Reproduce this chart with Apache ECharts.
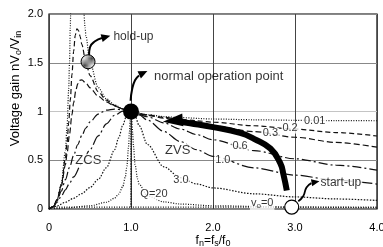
<!DOCTYPE html>
<html>
<head>
<meta charset="utf-8">
<script src="https://cdn.jsdelivr.net/npm/echarts@6/dist/echarts.min.js"></script>
<style>
  html, body { margin: 0; padding: 0; background: #fff; }
  #chart { width: 383px; height: 247px; }
</style>
</head>
<body>
<div id="chart"></div>
<script>
  // tick labels
  const fnTicks = ['0', '1.0', '2.0', '3.0', '4.0']
  const gainTicks = ['0', '0.5', '1', '1.5', '2.0']

  // gain curves [fn, gain] (values above 2.0 run off the top)
  const gainQ001 = [[0, 0], [0.05, 0.023], [0.1, 0.1], [0.15, 0.261], [0.2, 0.6], [0.22, 0.844], [0.24, 1.222], [0.25, 1.497], [0.26, 1.877], [0.27, 2.42], [0.28, 3.25], [0.3, 7.86], [0.33, 10.97], [0.35, 4.86], [0.36, 3.94], [0.38, 2.92], [0.4, 2.397], [0.42, 2.078], [0.44, 1.861], [0.45, 1.777], [0.5, 1.5], [0.6, 1.246], [0.7, 1.131], [0.8, 1.067], [0.9, 1.027], [1, 1], [1.2, 0.967], [1.4, 0.948], [1.6, 0.937], [2, 0.923], [2.5, 0.915], [3, 0.91], [3.5, 0.907], [4, 0.905]]
  const gainQ02 = [[0, 0], [0.05, 0.023], [0.1, 0.098], [0.15, 0.247], [0.2, 0.52], [0.22, 0.682], [0.24, 0.882], [0.26, 1.119], [0.28, 1.378], [0.3, 1.615], [0.32, 1.781], [0.34, 1.847], [0.36, 1.831], [0.38, 1.769], [0.4, 1.69], [0.45, 1.504], [0.5, 1.368], [0.6, 1.204], [0.7, 1.116], [0.8, 1.062], [0.9, 1.026], [1, 1], [1.2, 0.965], [1.4, 0.94], [1.6, 0.921], [1.8, 0.905], [2, 0.89], [2.5, 0.854], [3, 0.819], [3.5, 0.784], [4, 0.749]]
  const gainQ03 = [[0, 0], [0.05, 0.023], [0.1, 0.096], [0.15, 0.233], [0.2, 0.454], [0.22, 0.569], [0.25, 0.765], [0.28, 0.967], [0.3, 1.089], [0.33, 1.227], [0.35, 1.283], [0.38, 1.321], [0.4, 1.324], [0.45, 1.292], [0.5, 1.243], [0.6, 1.157], [0.7, 1.098], [0.8, 1.056], [0.9, 1.025], [1, 1], [1.2, 0.962], [1.4, 0.931], [1.6, 0.903], [1.8, 0.877], [2, 0.853], [2.5, 0.793], [3, 0.736], [3.5, 0.683], [4, 0.634]]
  const gainQ06 = [[0, 0], [0.05, 0.022], [0.1, 0.086], [0.15, 0.183], [0.2, 0.301], [0.25, 0.426], [0.3, 0.548], [0.35, 0.659], [0.4, 0.754], [0.45, 0.831], [0.5, 0.893], [0.6, 0.974], [0.7, 1.014], [0.8, 1.025], [0.9, 1.018], [1, 1], [1.2, 0.946], [1.4, 0.883], [1.6, 0.821], [1.8, 0.763], [2, 0.71], [2.5, 0.599], [3, 0.515], [3.5, 0.45], [4, 0.399]]
  const gainQ10 = [[0, 0], [0.05, 0.021], [0.1, 0.071], [0.15, 0.132], [0.2, 0.197], [0.25, 0.263], [0.3, 0.329], [0.4, 0.467], [0.5, 0.609], [0.6, 0.749], [0.7, 0.873], [0.8, 0.962], [0.9, 1.004], [1, 1], [1.1, 0.964], [1.2, 0.912], [1.4, 0.795], [1.6, 0.692], [1.8, 0.608], [2, 0.54], [2.5, 0.422], [3, 0.347], [3.5, 0.294], [4, 0.256]]
  const gainQ30 = [[0, 0], [0.1, 0.032], [0.2, 0.069], [0.3, 0.11], [0.4, 0.158], [0.5, 0.22], [0.6, 0.303], [0.7, 0.424], [0.8, 0.608], [0.85, 0.73], [0.9, 0.861], [0.95, 0.966], [1, 1], [1.05, 0.951], [1.1, 0.855], [1.2, 0.662], [1.4, 0.433], [1.6, 0.321], [1.8, 0.257], [2, 0.216], [2.5, 0.156], [3, 0.124], [3.5, 0.103], [4, 0.088]]
  const gainQ20 = [[0, 0], [0.2, 0.01], [0.5, 0.033], [0.7, 0.069], [0.8, 0.111], [0.85, 0.152], [0.9, 0.231], [0.93, 0.326], [0.95, 0.439], [0.97, 0.636], [0.98, 0.78], [0.99, 0.93], [1, 1], [1.01, 0.927], [1.02, 0.782], [1.03, 0.644], [1.05, 0.455], [1.08, 0.308], [1.1, 0.253], [1.2, 0.135], [1.4, 0.073], [1.6, 0.051], [2, 0.033], [3, 0.019], [4, 0.013]]
  const gainNoLoad = [[0, 0.02], [1, 0.02], [1, 1], [1, 0.02], [4, 0.02]]

  // operating points
  const normalPoint = [1, 1]
  const holdUpPoint = [0.476, 1.51]
  const startUpPoint = [2.96, 0.02]

  // annotation arrows
  const startToNormal = [[2.9, 0.19], [2.86, 0.35], [2.82, 0.47], [2.7, 0.62], [2.5, 0.72], [2.33, 0.78], [2.0, 0.84], [1.72, 0.88], [1.6, 0.895]]
  const holdUpArrow = [[0.488, 1.58], [0.5, 1.66], [0.561, 1.72], [0.646, 1.754]]
  const normalArrow = [[0.995, 1.11], [1.012, 1.22], [1.049, 1.32], [1.098, 1.37]]
  const startUpArrow = [[3.04, 0.08], [3.1, 0.13], [3.14, 0.22], [3.2, 0.265]]

  const chart = echarts.init(document.getElementById('chart'))
  const font = 'Liberation Sans, Arial, Helvetica, sans-serif'

  function hatch() {
    const c = document.createElement('canvas')
    c.width = 4
    c.height = 4
    const ctx = c.getContext('2d')
    ctx.fillStyle = '#e0e0e0'
    ctx.fillRect(0, 0, 4, 4)
    ctx.strokeStyle = '#444'
    ctx.lineWidth = 1
    ctx.beginPath()
    ctx.moveTo(0, 4)
    ctx.lineTo(4, 0)
    ctx.stroke()
    return c
  }

  function curve(data, type, width) {
    return {
      type: 'line',
      data: data,
      showSymbol: false,
      smooth: 0.3,
      smoothMonotone: 'x',
      clip: true,
      z: 3,
      lineStyle: { color: '#111', width: width || 1.2, type: type }
    }
  }

  function arrow(data, width) {
    return {
      type: 'line',
      data: data,
      showSymbol: false,
      smooth: 0.5,
      z: 6,
      lineStyle: { color: '#000', width: width, type: 'solid' }
    }
  }

  function tag(value, text, size, bg) {
    return {
      value: value,
      label: {
        formatter: text,
        fontSize: size,
        backgroundColor: bg ? '#fff' : 'transparent',
        padding: bg ? [0, 1] : 0
      }
    }
  }

  chart.setOption({
    animation: false,
    textStyle: { fontFamily: font },
    grid: {
      left: 49,
      right: 6,
      top: 14,
      bottom: 38,
      containLabel: false,
      outerBoundsMode: 'none',
      show: true,
      borderColor: '#000',
      borderWidth: 1.2,
      backgroundColor: '#fff'
    },
    xAxis: {
      type: 'value',
      min: 0,
      max: 4,
      interval: 1,
      name: 'f{s|n}=f{s|s}/f{s|0}',
      nameLocation: 'middle',
      nameGap: 24,
      nameMoveOverlap: false,
      nameTextStyle: {
        color: '#000',
        fontSize: 12,
        lineHeight: 15,
        rich: { s: { fontSize: 9, lineHeight: 9, verticalAlign: 'bottom' } }
      },
      axisLine: { show: false },
      axisTick: { show: false },
      axisLabel: {
        color: '#000',
        fontSize: 11,
        margin: 13,
        formatter: function (v) {
          return fnTicks[Math.round(v)]
        }
      },
      splitLine: { show: true, lineStyle: { color: '#444', width: 1 } }
    },
    yAxis: {
      type: 'value',
      min: 0,
      max: 2,
      interval: 0.5,
      name: 'Voltage gain nV{s|o}/V{s|in}',
      nameLocation: 'middle',
      nameGap: 26,
      nameRotate: 90,
      nameMoveOverlap: false,
      nameTextStyle: {
        color: '#000',
        fontSize: 13,
        lineHeight: 16,
        padding: [0, 0, 0, 46],
        rich: { s: { fontSize: 9, lineHeight: 9, verticalAlign: 'bottom' } }
      },
      axisLine: { show: false },
      axisTick: { show: false },
      axisLabel: {
        color: '#000',
        fontSize: 11,
        margin: 6,
        formatter: function (v) {
          return gainTicks[Math.round(v * 2)]
        }
      },
      splitLine: {
        show: true,
        lineStyle: { color: ['#888', '#888', '#c4c4c4', '#888', '#888'], width: 1 }
      }
    },
    series: [
      curve(gainQ001, [1, 1.5]),
      curve(gainQ02, [5, 3]),
      curve(gainQ03, [6, 3]),
      curve(gainQ06, [9, 3, 2, 3]),
      curve(gainQ10, [12, 3, 2, 3]),
      curve(gainQ30, [1.5, 1.5]),
      curve(gainQ20, [1, 1.5]),
      Object.assign(curve(gainNoLoad, [1, 1.5]), { smooth: false }),
      arrow(startToNormal, 6),
      arrow(holdUpArrow, 2),
      arrow(normalArrow, 2),
      arrow(startUpArrow, 1.8),
      {
        // arrow heads
        type: 'scatter',
        symbol: 'triangle',
        z: 7,
        itemStyle: { color: '#000', opacity: 1 },
        data: [
          { value: [1.51, 0.905], symbolSize: [13, 20], symbolRotate: 95 },
          { value: [0.695, 1.764], symbolSize: [8, 9], symbolRotate: -75 },
          { value: [1.15, 1.395], symbolSize: [8, 9], symbolRotate: -65 },
          { value: [3.25, 0.277], symbolSize: [7, 8], symbolRotate: -80 }
        ]
      },
      {
        // operating points
        type: 'scatter',
        z: 8,
        data: [
          { value: normalPoint, symbolSize: 16, itemStyle: { color: '#000', opacity: 1 } },
          { value: holdUpPoint, symbolSize: 14, itemStyle: { color: { image: hatch(), repeat: 'repeat' }, borderColor: '#000', borderWidth: 1, opacity: 1 } },
          { value: startUpPoint, symbolSize: 14, itemStyle: { color: '#fff', borderColor: '#000', borderWidth: 1.2, opacity: 1 } }
        ]
      },
      {
        // curve and region labels
        type: 'scatter',
        symbolSize: 1,
        z: 9,
        itemStyle: { color: 'transparent' },
        label: {
          show: true,
          position: 'inside',
          color: '#000',
          fontFamily: font,
          rich: {
            n: { fontSize: 11, lineHeight: 14 },
            s: { fontSize: 8, lineHeight: 8, verticalAlign: 'bottom' }
          }
        },
        data: [
          tag([3.24, 0.9], '0.01', 11, true),
          tag([2.94, 0.83], '0.2', 11, true),
          tag([2.7, 0.775], '0.3', 11, true),
          tag([2.33, 0.65], '0.6', 11, true),
          tag([2.12, 0.5], '1.0', 11, true),
          tag([1.61, 0.3], '3.0', 11, true),
          tag([1.28, 0.15], 'Q=20', 11, true),
          tag([1.57, 0.6], 'ZVS', 13, true),
          tag([0.48, 0.5], 'ZCS', 13, true),
          tag([2.6, 0.06], '{n|v}{s|o}{n|=0}', 11, true),
          tag([3.56, 0.267], 'start-up', 12, true),
          tag([1.03, 1.764], 'hold-up', 12, false),
          tag([2.07, 1.364], 'normal operation point', 13, false)
        ]
      }
    ]
  })
</script>
</body>
</html>
